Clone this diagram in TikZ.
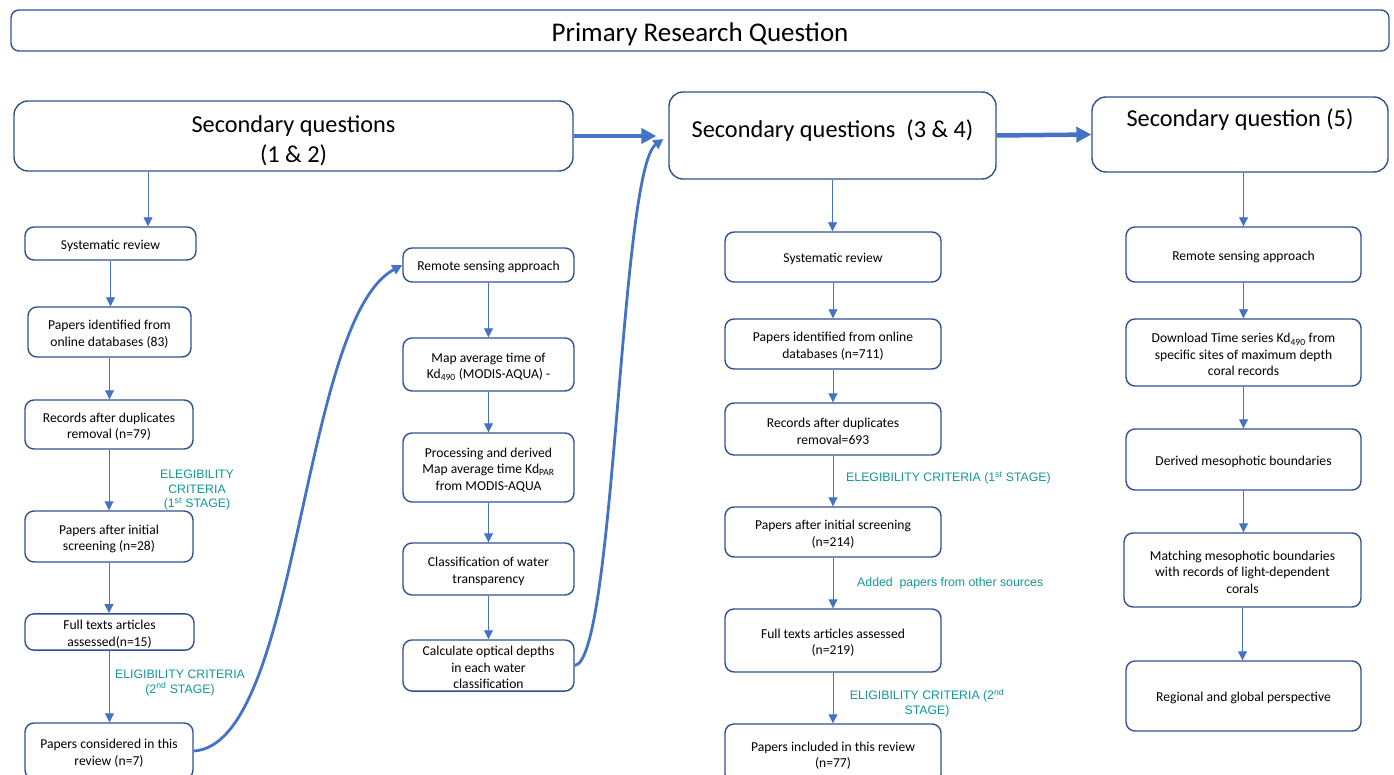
\documentclass[tikz,border=0pt]{standalone}
\usepackage{fontspec}
\setmainfont{Carlito}
\newfontfamily\arialf{Liberation Sans}
\usetikzlibrary{arrows.meta,calc}
\definecolor{boxc}{RGB}{47,82,143}
\definecolor{arrc}{RGB}{68,114,196}
\definecolor{tealc}{RGB}{18,150,150}
\newcommand\ts[1]{\rule{0pt}{#1pt}}
\newcommand\tsd{\ts{14}}
\begin{document}
\begin{tikzpicture}[x=1pt,y=-1pt,
 box/.style={draw=boxc, line width=1.4pt, rounded corners=9pt, align=center, inner sep=2pt, fill=white, font=\fontsize{13.6}{16.5}\selectfont},
 big/.style={box, font=\fontsize{24.3}{30}\selectfont, rounded corners=14pt},
 thinarr/.style={draw=arrc, line width=0.9pt, -{Triangle[length=9pt,width=9pt]}},
 thickarr/.style={draw=arrc, line width=4.5pt, -{Triangle[length=15pt,width=15pt]}},
 curvearr/.style={draw=arrc, line width=2.8pt, -{Triangle[length=10pt,width=10pt]}},
 lab/.style={text=tealc, font=\arialf\fontsize{12.3}{14.5}\selectfont, align=center, inner sep=0}]
\useasboundingbox (0,0) rectangle (1394,775);

% Primary
\node[box, font=\fontsize{27}{33}\selectfont, rounded corners=8pt, minimum width=1378pt, minimum height=41pt] (PRQ) at (700,30.5) {\ts{26}Primary Research Question};

% Secondary question boxes
\node[big, minimum width=559pt, minimum height=70pt] (S12) at (293.5,136) {\ts{26}Secondary questions\\(1 \& 2)};
\node[big, minimum width=327pt, minimum height=87pt] (S34) at (832.5,135.5) {Secondary questions\ \ (3 \& 4)\rule[-14pt]{0pt}{14pt}};
\node[big, minimum width=296pt, minimum height=75pt] (S5) at (1240,134.5) {\ts{24}Secondary question (5)\\\strut};

% Column 1
\node[box, minimum width=171pt, minimum height=33pt] (SR1) at (110.5,243.5) {\tsd Systematic review};
\node[box, minimum width=163pt, minimum height=50pt] (PI1) at (109.5,332) {\tsd Papers identified from\\online databases (83)};
\node[box, minimum width=168pt, minimum height=49pt] (RD1) at (109,424.5) {\tsd Records after duplicates\\removal (n=79)};
\node[box, minimum width=168pt, minimum height=51pt] (PS1) at (109,536.5) {\tsd Papers after initial\\screening (n=28)};
\node[box, minimum width=169pt, minimum height=34pt] (FT1) at (109.5,632) {\tsd Full texts articles\\assessed(n=15)};
\node[box, minimum width=168pt, minimum height=56pt] (PC1) at (109,751) {\tsd Papers considered in this\\review (n=7)};

% Column 2
\node[box, minimum width=171pt, minimum height=34pt] (RS2) at (488.5,265) {\tsd Remote sensing approach};
\node[box, minimum width=171pt, minimum height=53pt] (MA2) at (488.5,364.5) {\tsd Map average time of\\Kd\textsubscript{490} (MODIS-AQUA) -};
\node[box, minimum width=171pt, minimum height=69pt] (PR2) at (488.5,467.5) {\tsd Processing and derived\\Map average time Kd\textsubscript{PAR}\\from MODIS-AQUA};
\node[box, minimum width=171pt, minimum height=52pt] (CL2) at (488.5,569) {\tsd Classification of water\\transparency};
\node[box, minimum width=171pt, minimum height=51pt] (CO2) at (488.5,665.5) {\tsd Calculate optical depths\\in each water\\classification};

% Column 3
\node[box, minimum width=216pt, minimum height=50pt] (SR3) at (833,257) {\tsd Systematic review};
\node[box, minimum width=216pt, minimum height=50pt] (PI3) at (833,344) {\tsd Papers identified from online\\databases (n=711)};
\node[box, minimum width=216pt, minimum height=52pt] (RD3) at (833,429) {\tsd Records after duplicates\\removal=693};
\node[box, minimum width=216pt, minimum height=50pt] (PS3) at (833,532) {\tsd Papers after initial screening\\(n=214)};
\node[box, minimum width=216pt, minimum height=63pt] (FT3) at (833,640.5) {\tsd Full texts articles assessed\\(n=219)};
\node[box, minimum width=216pt, minimum height=59pt] (PN3) at (833,753.5) {\tsd Papers included in this review\\(n=77)};

% Column 4
\node[box, minimum width=235pt, minimum height=55pt] (RS4) at (1243.5,254.5) {\tsd Remote sensing approach};
\node[box, minimum width=235pt, minimum height=67pt] (DL4) at (1243.5,352.5) {\tsd Download Time series Kd\textsubscript{490} from\\specific sites of maximum depth\\coral records};
\node[box, minimum width=235pt, minimum height=61pt] (DM4) at (1243.5,459.5) {\tsd Derived mesophotic boundaries};
\node[box, minimum width=237pt, minimum height=74pt] (MM4) at (1242.5,570) {\tsd Matching mesophotic boundaries\\with records of light-dependent\\corals};
\node[box, minimum width=235pt, minimum height=70pt] (RG4) at (1243.5,696) {\tsd Regional and global perspective};

% Labels
\node[lab] (L1) at (197,490) {ELEGIBILITY\\CRITERIA\\(1\textsuperscript{st} STAGE)};
\node[lab] (L2) at (180,683) {ELIGIBILITY CRITERIA\\(2\textsuperscript{nd} STAGE)};
\node[lab, anchor=west] (L3) at (846,478) {ELEGIBILITY CRITERIA (1\textsuperscript{st} STAGE)};
\node[lab, anchor=west] (L4) at (857,583) {Added\ \ papers from other sources};
\node[lab] (L5) at (927,703) {ELIGIBILITY CRITERIA (2\textsuperscript{nd}\\STAGE)};

% Thick arrows
\draw[thickarr, shorten >=12pt] (S12.east) -- (S12.east -| S34.west);
\draw[thickarr] (S34.east) -- (S5.west);

% Thin arrows, column 1
\draw[thinarr] ([xshift=37.5pt]SR1.north |- S12.south) -- ([xshift=37.5pt]SR1.north);
\draw[thinarr] (SR1.south) -- (SR1.south |- PI1.north);
\draw[thinarr] (PI1.south) -- (PI1.south |- RD1.north);
\draw[thinarr] (RD1.south) -- (RD1.south |- PS1.north);
\draw[thinarr] (PS1.south) -- (PS1.south |- FT1.north);
\draw[thinarr] (FT1.south) -- (FT1.south |- PC1.north);

% column 2
\draw[thinarr] (RS2.south) -- (MA2.north);
\draw[thinarr] (MA2.south) -- (PR2.north);
\draw[thinarr] (PR2.south) -- (CL2.north);
\draw[thinarr] (CL2.south) -- (CO2.north);

% column 3
\draw[thinarr] (S34.south) -- (S34.south |- SR3.north);
\draw[thinarr] (SR3.south) -- (PI3.north);
\draw[thinarr] (PI3.south) -- (RD3.north);
\draw[thinarr] (RD3.south) -- (PS3.north);
\draw[thinarr] (PS3.south) -- (FT3.north);
\draw[thinarr] (FT3.south) -- (PN3.north);

% column 4
\draw[thinarr] (RS4.north |- S5.south) -- (RS4.north);
\draw[thinarr] (RS4.south) -- (DL4.north);
\draw[thinarr] (DL4.south) -- (DL4.south |- DM4.north);
\draw[thinarr] (DM4.south) -- (DM4.south |- MM4.north);
\draw[thinarr] (MM4.south) -- (MM4.south |- RG4.north);

% Curved arrows
\draw[curvearr] (PC1.east) .. controls (300,745) and (300,320) .. (RS2.west);
\draw[curvearr, shorten >=6pt] (CO2.east) .. controls (615,662) and (620,170) .. (S34.west);
\end{tikzpicture}
\end{document}
